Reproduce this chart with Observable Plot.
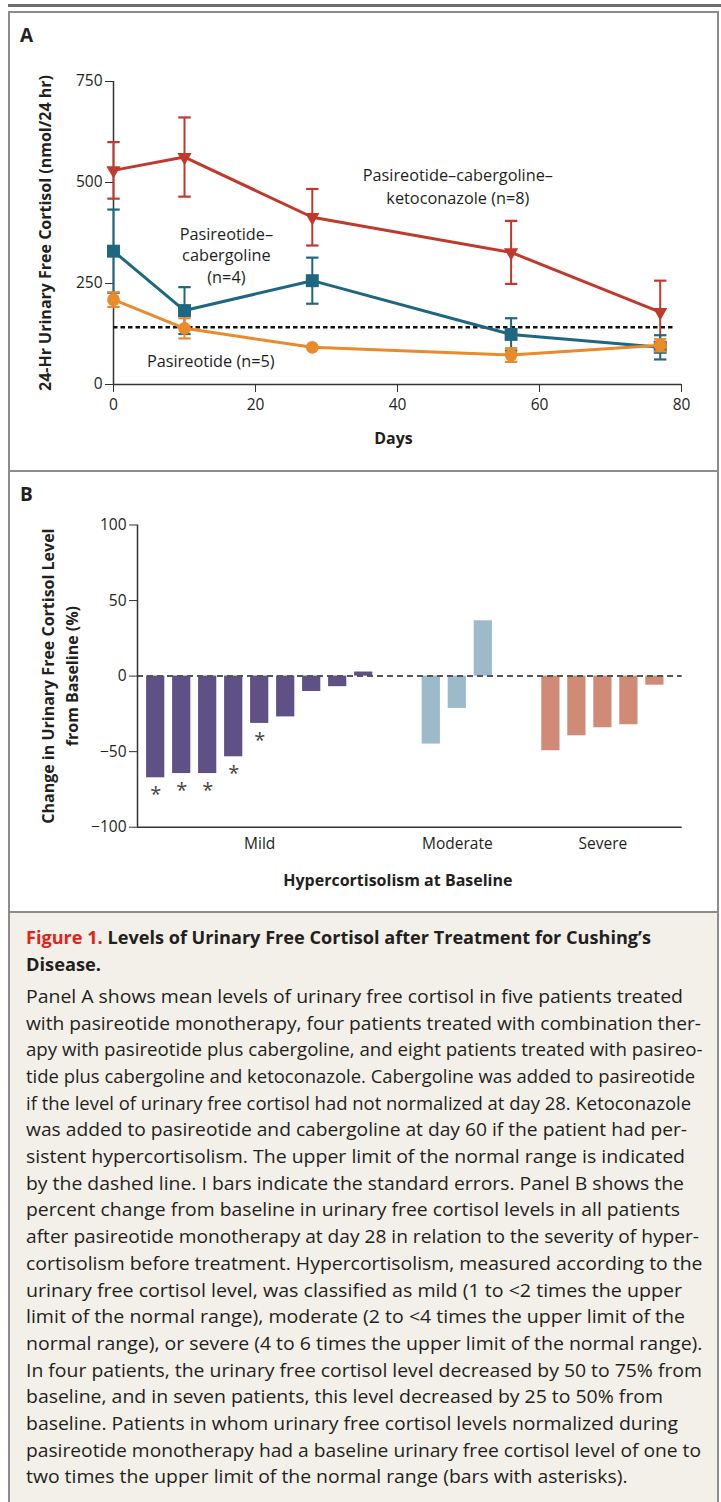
<!DOCTYPE html>
<html><head><meta charset="utf-8">
<script src="https://cdn.jsdelivr.net/npm/d3@7"></script>
<script src="https://cdn.jsdelivr.net/npm/@observablehq/plot@0.6"></script>
<style>
html,body{margin:0;padding:0;background:#fff}
body{width:721px;height:1502px;position:relative;overflow:hidden;font-family:"Open Sans",sans-serif;color:#231f20}
#rule{position:absolute;left:8px;top:4px;width:713px;height:3px;background:#6d6e70}
#box{position:absolute;left:8px;top:11px;width:707px;height:1500px;border:2px solid #8c8c8c;border-bottom:none}
.div{position:absolute;left:8px;width:711px;height:2px;background:#8c8c8c}
.panel{position:absolute;left:0}
.plabel{position:absolute;left:20px;font-weight:bold;font-size:19px}
#caption{position:absolute;left:10px;top:913px;width:707px;height:589px;background:#f3f0e9;padding-top:11px;box-sizing:border-box;padding-left:16px}
#caption .ln{white-space:nowrap;font-size:18.5px;line-height:26.7px;height:26.7px}
#caption .ln span{display:inline-block;transform-origin:0 50%}
#caption .t{font-weight:bold}
#caption .red{color:#e2231a}
#body{margin-top:5.6px}
</style></head>
<body>
<div id="rule"></div>
<div id="box"></div>
<div class="div" style="top:470px"></div>
<div class="div" style="top:911px"></div>
<div id="pa" class="panel" style="top:12px"></div>
<div id="pb" class="panel" style="top:471px"></div>
<div class="plabel" style="top:22px">A</div>
<div class="plabel" style="top:481px">B</div>
<div id="caption">
  <div id="title"></div>
  <div id="body"></div>
</div>
<script>
// ---------- Panel A data ----------
const days = [0, 10, 28, 56, 77];
const pckMean = [530, 563, 414, 327, 179];   // pasireotide–cabergoline–ketoconazole
const pckSE   = [70, 98, 70, 78, 78];
const pcMean  = [330, 183, 257, 124, 92];    // pasireotide–cabergoline
const pcSE    = [103, 58, 57, 40, 30];
const pMean   = [210, 139, 92, 73, 97];      // pasireotide
const pSE     = [18, 25, 0, 17, 15];
const upperNormalLimit = 142;
const xTicksA = [0, 20, 40, 60, 80];
const yTicksA = [0, 250, 500, 750];

// ---------- Panel B data ----------
const groups = ["Mild", "Moderate", "Severe"];
const mildChange     = [-67.3, -64.5, -64.5, -53.4, -31.3, -27, -10.2, -7, 2.7];
const mildNormalized = [true, true, true, true, true, false, false, false, false];
const moderateChange = [-45, -21.4, 36.6];
const severeChange   = [-49.4, -39.5, -34.2, -32.2, -6];
const yTicksB = [-100, -50, 0, 50, 100];

// ---------- Caption ----------
const titleLines = ["Levels of Urinary Free Cortisol after Treatment for Cushing’s", "Disease."];
const captionLines = [
"Panel A shows mean levels of urinary free cortisol in five patients treated",
"with pasireotide monotherapy, four patients treated with combination ther-",
"apy with pasireotide plus cabergoline, and eight patients treated with pasireo-",
"tide plus cabergoline and ketoconazole. Cabergoline was added to pasireotide",
"if the level of urinary free cortisol had not normalized at day 28. Ketoconazole",
"was added to pasireotide and cabergoline at day 60 if the patient had per-",
"sistent hypercortisolism. The upper limit of the normal range is indicated",
"by the dashed line. I bars indicate the standard errors. Panel B shows the",
"percent change from baseline in urinary free cortisol levels in all patients",
"after pasireotide monotherapy at day 28 in relation to the severity of hyper-",
"cortisolism before treatment. Hypercortisolism, measured according to the",
"urinary free cortisol level, was classified as mild (1 to <2 times the upper",
"limit of the normal range), moderate (2 to <4 times the upper limit of the",
"normal range), or severe (4 to 6 times the upper limit of the normal range).",
"In four patients, the urinary free cortisol level decreased by 50 to 75% from",
"baseline, and in seven patients, this level decreased by 25 to 50% from",
"baseline. Patients in whom urinary free cortisol levels normalized during",
"pasireotide monotherapy had a baseline urinary free cortisol level of one to",
"two times the upper limit of the normal range (bars with asterisks)."
];
// layout: right edge (page px) of each caption line in the reference
const titleLineEnds = [651, 101];
const captionLineEnds = [683, 701, 702.5, 695, 691, 687, 685, 684, 680, 699, 702.5, 682, 685, 702.5, 702, 663, 678, 701, 627.5];

const COLORS = {pck: "#c1392b", pc: "#1e6781", p: "#e98a2b"};
const GROUP_COLORS = {Mild: "#5f5086", Moderate: "#9dbacb", Severe: "#d08b77"};
const FONT = "'Open Sans', sans-serif";
const INK = "#231f20";

// ---------- Build Panel A ----------
function series(key, mean, se) {
  return days.map((d, i) => ({key, day: d, mean: mean[i], se: se[i]}));
}
const sPCK = series("pck", pckMean, pckSE);
const sPC = series("pc", pcMean, pcSE);
const sP = series("p", pMean, pSE);

const capSymbol = {draw(ctx, size) { const w = Math.sqrt(size) / 2; ctx.moveTo(-w, 0); ctx.lineTo(w, 0); }};

function errorMarks(data, color) {
  const d = data.filter(r => r.se > 0);
  return [
    Plot.ruleX(d, {x: "day", y1: r => r.mean - r.se, y2: r => r.mean + r.se, stroke: color, strokeWidth: 2}),
    Plot.dot(d, {x: "day", y: r => r.mean + r.se, symbol: capSymbol, r: 7, stroke: color, strokeWidth: 2.2, fill: "none"}),
    Plot.dot(d, {x: "day", y: r => r.mean - r.se, symbol: capSymbol, r: 7, stroke: color, strokeWidth: 2.2, fill: "none"})
  ];
}

const plotA = Plot.plot({
  width: 721, height: 458,
  marginLeft: 113, marginRight: 40, marginTop: 69, marginBottom: 86,
  style: {background: "transparent", fontFamily: FONT, fontSize: "15.5px", color: INK, overflow: "visible"},
  x: {domain: [0, 80]},
  y: {domain: [0, 750]},
  marks: [
    Plot.axisX({ticks: xTicksA, tickSize: 8, tickPadding: 6, fontSize: 15.5, stroke: "#333", fill: INK, label: null}),
    Plot.axisY({ticks: yTicksA, tickSize: 8, tickPadding: 3, fontSize: 15.5, stroke: "#333", fill: INK, label: null}),
    Plot.ruleY([0], {stroke: "#333", strokeWidth: 1.5}),
    Plot.ruleX([0], {y1: 0, y2: 750, stroke: "#333", strokeWidth: 1.5}),
    Plot.ruleY([upperNormalLimit], {x1: 0, x2: 79, stroke: "#111", strokeWidth: 2.5, strokeDasharray: "4.5,3"}),
    // red
    ...errorMarks(sPCK, COLORS.pck),
    Plot.line(sPCK, {x: "day", y: "mean", stroke: COLORS.pck, strokeWidth: 3}),
    Plot.dot(sPCK, {x: "day", y: "mean", symbol: "triangle", rotate: 180, r: 5.3, fill: COLORS.pck}),
    // teal
    ...errorMarks(sPC, COLORS.pc),
    Plot.line(sPC, {x: "day", y: "mean", stroke: COLORS.pc, strokeWidth: 3}),
    Plot.dot(sPC, {x: "day", y: "mean", symbol: "square", r: 7.3, fill: COLORS.pc}),
    // orange
    ...errorMarks(sP, COLORS.p),
    Plot.line(sP, {x: "day", y: "mean", stroke: COLORS.p, strokeWidth: 3}),
    Plot.dot(sP, {x: "day", y: "mean", r: 6.4, fill: COLORS.p}),
    // annotations
    Plot.text(["Pasireotide–cabergoline–\nketoconazole (n=8)"], {x: 48.5, y: 494, fontSize: 16.3, lineHeight: 1.42, fill: INK}),
    Plot.text(["Pasireotide–\ncabergoline\n(n=4)"], {x: 15.9, y: 322, fontSize: 16.3, lineHeight: 1.32, fill: INK}),
    Plot.text(["Pasireotide (n=5)"], {x: 13.7, y: 55, fontSize: 16.3, fill: INK}),
    // axis titles
    Plot.text(["Days"], {frameAnchor: "bottom", lineAnchor: "middle", dy: 54, dx: -4, fontSize: 16, fontWeight: "bold", fill: INK}),
    Plot.text(["24-Hr Urinary Free Cortisol (nmol/24 hr)"], {frameAnchor: "left", textAnchor: "middle", lineAnchor: "middle", dx: -68, rotate: -90, fontSize: 16, fontWeight: "bold", fill: INK})
  ]
});
document.getElementById("pa").appendChild(plotA);

// ---------- Build Panel B ----------
const GAP = 1.6;
const barRows = [];
const groupCenters = [];
let pos = 0;
[mildChange, moderateChange, severeChange].forEach((vals, g) => {
  const start = pos;
  vals.forEach((v, i) => {
    barRows.push({group: groups[g], pos, change: v, star: g === 0 && mildNormalized[i]});
    pos += 1;
  });
  groupCenters.push({group: groups[g], center: (start + pos - 1) / 2});
  pos += GAP;
});
const xMinB = -0.7, xMaxB = pos - GAP - 1 + 1.05;

const plotB = Plot.plot({
  width: 721, height: 441,
  marginLeft: 137, marginRight: 39.3, marginTop: 53.5, marginBottom: 85.3,
  style: {background: "transparent", fontFamily: FONT, fontSize: "15.5px", color: INK, overflow: "visible"},
  x: {domain: [xMinB, xMaxB], axis: null},
  y: {domain: [-100, 100]},
  marks: [
    Plot.axisY({ticks: yTicksB, tickSize: 8, tickPadding: 3, fontSize: 15.5, stroke: "#333", fill: INK, label: null,
      tickFormat: d => d < 0 ? "\u2212" + Math.abs(d) : String(d)}),
    Plot.rectY(barRows, {x1: d => d.pos - 0.35, x2: d => d.pos + 0.35, y1: 0, y2: "change",
      fill: d => GROUP_COLORS[d.group]}),
    Plot.ruleY([0], {stroke: "#555", strokeWidth: 2, strokeDasharray: "6,4"}),
    Plot.ruleY([-100], {stroke: "#333", strokeWidth: 1.5}),
    Plot.ruleX([xMinB], {y1: -100, y2: 100, stroke: "#333", strokeWidth: 1.5}),
    Plot.text(barRows.filter(d => d.star), {x: "pos", y: "change", text: () => "*", lineAnchor: "middle", dy: 17, fontSize: 20, fill: "#444"}),
    Plot.text(groupCenters, {x: "center", text: "group", frameAnchor: "bottom", lineAnchor: "middle", dy: 16.5, fontSize: 15.5, fill: INK}),
    Plot.text(["Hypercortisolism at Baseline"], {frameAnchor: "bottom", lineAnchor: "middle", dy: 54, dx: -12, fontSize: 16, fontWeight: "bold", fill: INK}),
    Plot.text(["Change in Urinary Free Cortisol Level\nfrom Baseline (%)"], {frameAnchor: "left", textAnchor: "middle", lineAnchor: "middle", dx: -79, rotate: -90, lineHeight: 1.46, fontSize: 16, fontWeight: "bold", fill: INK})
  ]
});
document.getElementById("pb").appendChild(plotB);

// ---------- Caption ----------
const LEFT = 26;
function addLine(parent, html, cls, end) {
  const d = document.createElement("div");
  d.className = "ln" + (cls ? " " + cls : "");
  const s = document.createElement("span");
  s.innerHTML = html;
  d.appendChild(s);
  parent.appendChild(d);
  const w = s.getBoundingClientRect().width;
  const k = (end - LEFT) / w;
  s.style.transform = "scaleX(" + k.toFixed(4) + ")";
}
const esc = t => t.replace(/&/g, "&amp;").replace(/</g, "&lt;");
const titleEl = document.getElementById("title");
addLine(titleEl, '<span class="red">Figure 1.</span> ' + esc(titleLines[0]), "t", titleLineEnds[0]);
addLine(titleEl, esc(titleLines[1]), "t", titleLineEnds[1]);
const bodyEl = document.getElementById("body");
captionLines.forEach((t, i) => addLine(bodyEl, esc(t), "", captionLineEnds[i]));
</script>
</body></html>
